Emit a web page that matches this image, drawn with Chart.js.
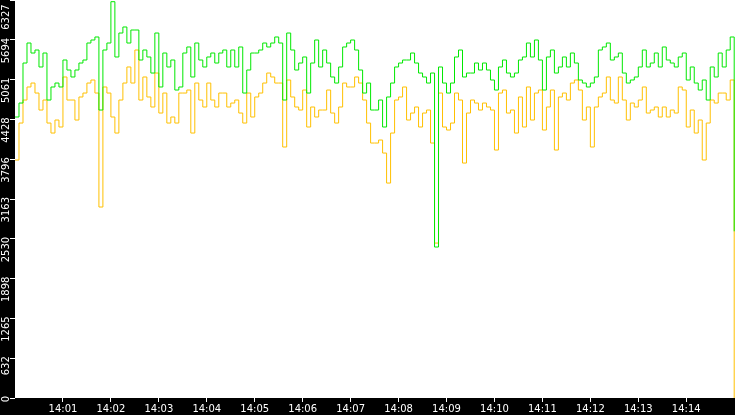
<!DOCTYPE html>
<html>
<head>
<meta charset="utf-8">
<script src="https://cdn.jsdelivr.net/npm/chart.js@4.4.1/dist/chart.umd.min.js"></script>
<style>
  html, body { margin: 0; padding: 0; background: #000; }
  #wrap { width: 735px; height: 415px; }
</style>
</head>
<body>
<div id="wrap"><canvas id="rateChart"></canvas></div>
<script>
// one sample every 5 s, 14:00:00 .. 14:15:00
const stepSeconds = 5;
const yMax = 6327;
const yTicks = [0, 632.7, 1265.4, 1898.1, 2530.8, 3163.5, 3796.2, 4428.9, 5061.6, 5694.3, 6327];
const xTickSeconds = [60, 120, 180, 240, 300, 360, 420, 480, 540, 600, 660, 720, 780, 840];
const xTickLabels = ['14:01', '14:02', '14:03', '14:04', '14:05', '14:06', '14:07',
                     '14:08', '14:09', '14:10', '14:11', '14:12', '14:13', '14:14'];

const greenSeries = [
  4467, 4689, 5325, 5643, 5484, 5532, 5262, 5484, 4737, 4944, 5007, 4944, 5373, 5214, 5103,
  5214, 5325, 5373, 5643, 5691, 5739, 4578, 5532, 5643, 6300, 5421, 5802, 5898, 5643, 5850,
  5850, 5373, 5532, 5421, 5166, 5802, 4944, 5484, 5262, 5373, 4896, 4944, 5484, 5580, 5103,
  5643, 5373, 5262, 5421, 5484, 5325, 5484, 5532, 5262, 5532, 5262, 5580, 4848, 5214, 5484,
  5484, 5532, 5643, 5580, 5643, 5739, 5643, 4737, 5802, 5532, 5214, 5325, 5421, 4848, 5325,
  5691, 5262, 5532, 5325, 5103, 5007, 5262, 5580, 5643, 5691, 5532, 5214, 4848, 5007, 4578,
  4578, 4737, 4308, 4785, 5007, 5262, 5325, 5373, 5373, 5484, 5325, 5166, 5103, 5007, 5166,
  2400, 5262, 5007, 4848, 5007, 5421, 5532, 5103, 5166, 5166, 5325, 5214, 5325, 5214, 5055,
  4896, 5262, 5373, 5166, 5103, 5166, 5373, 5421, 5643, 5421, 5691, 5373, 4896, 5421, 5532,
  5166, 5262, 5421, 5262, 5484, 5325, 5055, 5007, 4944, 5007, 5103, 5532, 5580, 5643, 5373,
  5421, 5484, 5166, 5007, 5055, 5103, 5262, 5532, 5262, 5325, 5484, 5262, 5580, 5373, 5325,
  5262, 5421, 5484, 5055, 5262, 5007, 4896, 5055, 4737, 5262, 5103, 5484, 5262, 5532, 5739,
  2650
];

const orangeSeries = [
  3783, 4371, 4737, 4944, 5007, 4848, 4578, 4737, 4371, 4212, 4419, 4308, 5103, 4737, 4737,
  4419, 4785, 4848, 5007, 5055, 4848, 3036, 4944, 4848, 4467, 4212, 4737, 5007, 5262, 5007,
  5532, 4737, 5103, 4785, 4626, 5166, 4530, 4848, 4371, 4467, 4371, 4848, 4848, 4896, 4212,
  5007, 4737, 4626, 5007, 4737, 4626, 4848, 4848, 4626, 4689, 4737, 4530, 4371, 4848, 4467,
  4785, 4848, 5007, 5166, 5103, 5007, 5007, 3990, 5055, 4785, 4626, 4578, 4896, 4308, 4626,
  4467, 4578, 4578, 4896, 4530, 4371, 4626, 5007, 4944, 4944, 5103, 5007, 4737, 4371, 4053,
  4053, 4101, 3894, 3417, 4212, 4737, 4785, 4944, 4419, 4530, 4626, 4308, 4530, 4578, 4053,
  2463, 4848, 4308, 4260, 4371, 4848, 4737, 3735, 4530, 4737, 4689, 4578, 4689, 4626, 4578,
  3942, 4848, 4896, 4530, 4578, 4212, 4785, 4308, 4944, 4419, 4848, 4896, 4260, 4626, 4896,
  3942, 4785, 4848, 4737, 5007, 5055, 4896, 4419, 4626, 3990, 4626, 4785, 4848, 5103, 4737,
  4689, 5103, 4737, 4419, 4689, 4626, 4737, 4944, 4530, 4578, 4626, 4467, 4626, 4467, 4578,
  4530, 4944, 4896, 4308, 4578, 4212, 4419, 3783, 4371, 4737, 4689, 4848, 4848, 4737, 5055,
  0
];

function toPoints(values) {
  return values.map((v, i) => ({ x: i * stepSeconds, y: v }));
}

// black frame, white plot area
const backdrop = {
  id: 'backdrop',
  beforeDraw(chart) {
    const { ctx, chartArea: a, width, height } = chart;
    ctx.save();
    ctx.fillStyle = '#000';
    ctx.fillRect(0, 0, width, height);
    ctx.fillStyle = '#fff';
    ctx.fillRect(a.left, a.top, a.right - a.left, a.bottom - a.top);
    ctx.restore();
  }
};

const labelFont = { family: 'DejaVu Sans', size: 10 };

function drawChart() {
  const ctx = document.getElementById('rateChart').getContext('2d');
  new Chart(ctx, {
    type: 'line',
    data: {
      datasets: [{
        data: toPoints(greenSeries),
        borderColor: '#00e800',
        borderWidth: 1,
        stepped: true,
        pointRadius: 0,
        fill: false
      }, {
        data: toPoints(orangeSeries),
        borderColor: '#ffc000',
        borderWidth: 1,
        stepped: true,
        pointRadius: 0,
        fill: false
      }]
    },
    options: {
      responsive: true,
      maintainAspectRatio: false,
      animation: false,
      layout: { padding: 0 },
      plugins: { legend: { display: false }, tooltip: { enabled: false } },
      scales: {
        x: {
          type: 'linear',
          min: 0,
          max: 901,
          afterBuildTicks: s => { s.ticks = xTickSeconds.map(v => ({ value: v })); },
          afterFit: s => { s.height = 17; s.paddingLeft = 0; s.paddingRight = 0; },
          border: { display: false },
          grid: { drawOnChartArea: false, tickLength: 4, color: '#fff' },
          ticks: {
            color: '#fff',
            font: labelFont,
            padding: 1,
            autoSkip: false,
            minRotation: 0,
            maxRotation: 0,
            callback: v => xTickLabels[xTickSeconds.indexOf(v)]
          }
        },
        y: {
          min: 0,
          max: yMax,
          afterBuildTicks: s => { s.ticks = yTicks.map(v => ({ value: v })); },
          afterFit: s => { s.width = 15; s.paddingTop = 0; s.paddingBottom = 0; },
          border: { display: false },
          grid: { drawOnChartArea: false, tickLength: 5, color: '#fff' },
          ticks: {
            color: '#fff',
            font: labelFont,
            padding: 4,
            autoSkip: false,
            minRotation: 90,
            maxRotation: 90,
            labelOffset: -2,
            callback: v => {
              const s = String(Math.floor(v + 1e-6));
              return v >= yMax ? s + '\u2007' : s;
            }
          }
        }
      }
    },
    plugins: [backdrop]
  });
}

document.addEventListener('DOMContentLoaded', drawChart);
</script>
</body>
</html>
